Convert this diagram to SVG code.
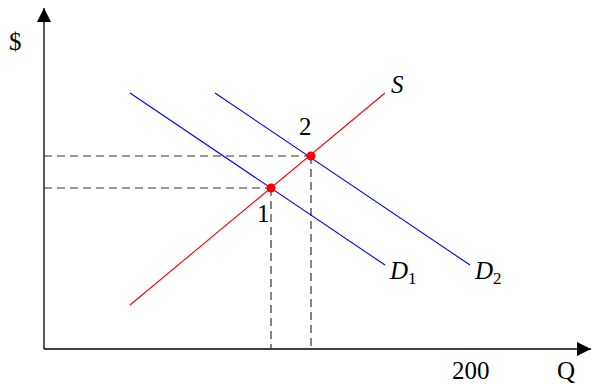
<svg xmlns="http://www.w3.org/2000/svg" width="592" height="387" viewBox="0 0 592 387">
<style>
text{font-family:"Liberation Serif","DejaVu Serif",serif;font-size:25px;fill:#000}
.it{font-style:italic}
.sub{font-size:17px}
.ax{stroke:#000;stroke-width:1.3;fill:none}
.dash{stroke:#333;stroke-width:1.2;stroke-dasharray:8 5;fill:none}
.sup{stroke:#ff0000;stroke-width:1.1;fill:none}
.dem{stroke:#0000ff;stroke-width:1.1;fill:none}
.pt{fill:#ff0000}
</style>
<defs>
<marker id="ah" markerWidth="14" markerHeight="14" refX="14" refY="7" orient="auto" markerUnits="userSpaceOnUse">
<path d="M0,0 L14,7 L0,14 Z" fill="#000"/>
</marker>
</defs>
<g id="axes">
<path class="ax" d="M44,349 L44,8" marker-end="url(#ah)"/>
<path class="ax" d="M44,349 L591,349" marker-end="url(#ah)"/>
<text x="9" y="50">$</text>
<text x="452" y="379">200</text>
<text x="557" y="379">Q</text>
</g>
<g id="connectors">
<path class="dash" d="M44,156 L311,156 M44,188 L271,188 M271,188 L271,349 M311,156 L311,349"/>
</g>
<g id="S">
<path class="sup" d="M130,305 L385,93"/>
<text class="it" x="391" y="93">S</text>
</g>
<g id="D1">
<path class="dem" d="M130,93 L385,265"/>
<text class="it" x="390" y="279">D<tspan class="sub" dy="5" font-style="normal">1</tspan></text>
</g>
<g id="D2">
<path class="dem" d="M215,93 L470,265"/>
<text class="it" x="475" y="279">D<tspan class="sub" dy="5" font-style="normal">2</tspan></text>
</g>
<g id="p1">
<circle class="pt" cx="271" cy="188" r="4.5"/>
<text x="257" y="222">1</text>
</g>
<g id="p2">
<circle class="pt" cx="311" cy="156" r="4.5"/>
<text x="299" y="135">2</text>
</g>
</svg>
